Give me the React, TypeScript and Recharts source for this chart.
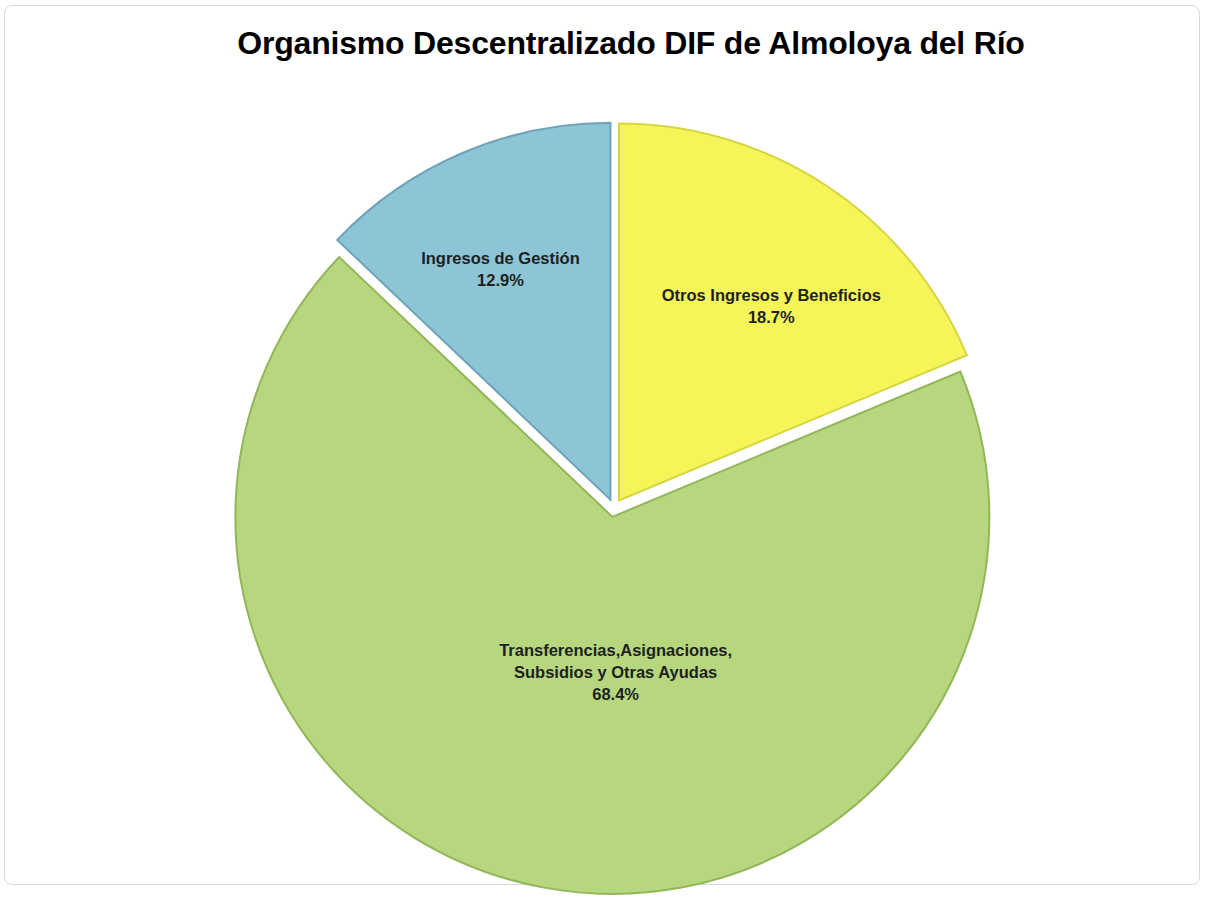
import React from 'react';
import { PieChart, Pie, Cell, Sector } from 'recharts';

const categories = [
  'Otros Ingresos y Beneficios',
  'Transferencias,Asignaciones,\nSubsidios y Otras Ayudas',
  'Ingresos de Gestión',
];
const shares = [18.7, 68.4, 12.9];

const fills = ['#F5F55A', '#B6D77E', '#8DC4D6'];
const edges = ['#D6D640', '#92B659', '#6FA3B8'];
// label placement like Excel's best fit: fraction of radius + small angle nudge
const labelDist = [0.65, 0.42, 0.67];
const labelNudge = [-4.6, 11, 2.5];

const data = categories.map((name, i) => ({ name, value: shares[i] }));

const RAD = Math.PI / 180;
const EXPLODE = 9;

const ExplodedSlice = (props: any) => {
  const { cx, cy, midAngle } = props;
  const dx = EXPLODE * Math.cos(-midAngle * RAD);
  const dy = EXPLODE * Math.sin(-midAngle * RAD);
  return <Sector {...props} cx={cx + dx} cy={cy + dy} />;
};

const renderLabel = (props: any) => {
  const { cx, cy, midAngle, outerRadius, index, name, value } = props;
  const r = outerRadius * labelDist[index] + EXPLODE;
  const a = (midAngle + labelNudge[index]) * RAD;
  const x = cx + r * Math.cos(-a);
  const y = cy + r * Math.sin(-a);
  const lines = String(name).split('\n').concat(`${Number(value).toFixed(1)}%`);
  const lh = 22;
  const top = y - ((lines.length - 1) * lh) / 2 - 3;
  return (
    <text
      x={x}
      y={top}
      textAnchor="middle"
      dominantBaseline="central"
      fontFamily="'Liberation Sans', Arial, sans-serif"
      fontWeight="bold"
      fontSize={16.5}
      fill="#1f1f1f"
    >
      {lines.map((l, i) => (
        <tspan key={i} x={x} y={top + i * lh}>{l}</tspan>
      ))}
    </text>
  );
};

export default function App() {
  return (
    <div style={{ position: 'absolute', left: 0, top: 0, width: 1206, height: 911, background: '#fff' }}>
      <div
        style={{
          position: 'absolute', left: 4, top: 5, width: 1196, height: 880,
          border: '1px solid #d9d9d9', borderRadius: 8, boxSizing: 'border-box',
        }}
      />
      <div
        style={{
          position: 'absolute', left: 0, top: 25, width: 1262, textAlign: 'center',
          fontFamily: "'Liberation Sans', Arial, sans-serif", fontWeight: 'bold',
          fontSize: 32, color: '#000', letterSpacing: -0.2,
        }}
      >
        Organismo Descentralizado DIF de Almoloya del Río
      </div>
      <PieChart width={1206} height={911} style={{ position: 'absolute', left: 0, top: 0 }}>
        <Pie
          data={data}
          dataKey="value"
          nameKey="name"
          cx={609}
          cy={503}
          outerRadius={377}
          startAngle={90}
          endAngle={-270}
          isAnimationActive={false}
          labelLine={false}
          label={renderLabel}
          shape={ExplodedSlice}
          activeShape={ExplodedSlice}
          inactiveShape={ExplodedSlice}
        >
          {data.map((d, i) => (
            <Cell key={d.name} fill={fills[i]} stroke={edges[i]} strokeWidth={2} />
          ))}
        </Pie>
      </PieChart>
    </div>
  );
}
